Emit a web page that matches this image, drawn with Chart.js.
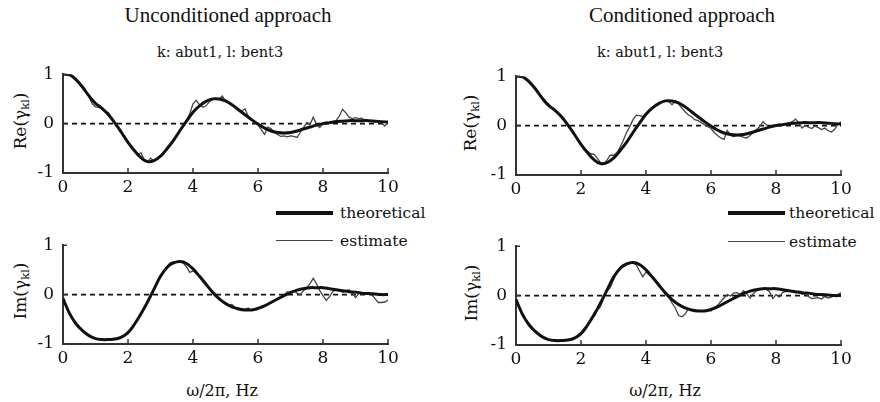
<!DOCTYPE html>
<html>
<head>
<meta charset="utf-8">
<script src="https://cdn.jsdelivr.net/npm/chart.js@4.4.0/dist/chart.umd.min.js"></script>
<style>
body{margin:0;background:#fff;width:880px;height:402px;position:relative;overflow:hidden;font-family:"DejaVu Serif",serif;color:#111}
canvas{position:absolute}
.t{position:absolute;white-space:nowrap;transform:translate(-50%,-50%)}
.title{font-family:"Liberation Serif",serif;font-size:21px;color:#111}
.sub{font-size:14.5px}
.yt{font-size:17px;transform:translate(-50%,-50%) rotate(-90deg)}
.yt sub{font-size:11.5px;vertical-align:-3px}
.xt{font-size:16px}
.leg{position:absolute;font-size:15.5px;white-space:nowrap;transform:translateY(-50%)}
.ln{position:absolute;background:#111}
</style>
</head>
<body>
<div class="t title" style="left:228px;top:15px">Unconditioned approach</div>
<div class="t title" style="left:682px;top:15px">Conditioned approach</div>
<div class="t sub" style="left:220px;top:52px">k: abut1, l: bent3</div>
<div class="t sub" style="left:660px;top:52px">k: abut1, l: bent3</div>

<div class="t yt" style="left:21px;top:121px">Re(γ<sub>kl</sub>)</div>
<div class="t yt" style="left:471px;top:123px">Re(γ<sub>kl</sub>)</div>
<div class="t yt" style="left:21px;top:291px">Im(γ<sub>kl</sub>)</div>
<div class="t yt" style="left:472px;top:293px">Im(γ<sub>kl</sub>)</div>

<div class="ln" style="left:276px;top:211px;width:57px;height:3.5px"></div>
<div class="leg" style="left:340px;top:213px">theoretical</div>
<div class="ln" style="left:276px;top:240px;width:57px;height:1.3px;background:#444"></div>
<div class="leg" style="left:340px;top:241px">estimate</div>
<div class="ln" style="left:728px;top:211px;width:57px;height:3.5px"></div>
<div class="leg" style="left:789px;top:213px">theoretical</div>
<div class="ln" style="left:728px;top:241px;width:57px;height:1.3px;background:#444"></div>
<div class="leg" style="left:789px;top:242px">estimate</div>

<div class="t xt" style="left:222px;top:390px">ω/2π, Hz</div>
<div class="t xt" style="left:665px;top:390px">ω/2π, Hz</div>

<canvas id="reU" width="410" height="150" style="left:0px;top:55px"></canvas>
<canvas id="reC" width="410" height="150" style="left:453px;top:57px"></canvas>
<canvas id="imU" width="410" height="150" style="left:0px;top:226px"></canvas>
<canvas id="imC" width="410" height="150" style="left:453px;top:227px"></canvas>

<script>
// frequency grids (Hz)
const freqTheory = [0,0.2,0.4,0.6,0.8,1,1.2,1.4,1.6,1.8,2,2.2,2.4,2.6,2.8,3,3.2,3.4,3.6,3.8,4,4.2,4.4,4.6,4.8,5,
    5.2,5.4,5.6,5.8,6,6.2,6.4,6.6,6.8,7,7.2,7.4,7.6,7.8,8,8.2,8.4,8.6,8.8,9,9.2,9.4,9.6,9.8,10]
const freqEst = [0,0.1,0.2,0.3,0.4,0.5,0.6,0.7,0.8,0.9,1,1.1,1.2,1.3,1.4,1.5,1.6,1.7,1.8,1.9,
    2,2.1,2.2,2.3,2.4,2.5,2.6,2.7,2.8,2.9,3,3.1,3.2,3.3,3.4,3.5,3.6,3.7,3.8,3.9,
    4,4.1,4.2,4.3,4.4,4.5,4.6,4.7,4.8,4.9,5,5.1,5.2,5.3,5.4,5.5,5.6,5.7,5.8,5.9,
    6,6.1,6.2,6.3,6.4,6.5,6.6,6.7,6.8,6.9,7,7.1,7.2,7.3,7.4,7.5,7.6,7.7,7.8,7.9,
    8,8.1,8.2,8.3,8.4,8.5,8.6,8.7,8.8,8.9,9,9.1,9.2,9.3,9.4,9.5,9.6,9.7,9.8,9.9,10]
const zeroX = [0, 10]
const zeroY = [0, 0]

// theoretical coherence (same for both approaches)
const reTheory = [1.00,0.99,0.89,0.74,0.56,0.41,0.31,0.18,0.01,-0.18,-0.38,-0.55,-0.69,-0.77,-0.75,-0.66,-0.51,-0.34,-0.14,0.05,
    0.23,0.36,0.45,0.50,0.50,0.46,0.38,0.28,0.18,0.08,-0.01,-0.09,-0.15,-0.18,-0.19,-0.18,-0.15,-0.11,-0.07,-0.03,
    0.00,0.02,0.04,0.05,0.06,0.06,0.06,0.06,0.05,0.04,0.03]
const imTheory = [-0.08,-0.38,-0.59,-0.73,-0.83,-0.89,-0.91,-0.91,-0.90,-0.86,-0.77,-0.60,-0.39,-0.15,0.11,0.37,0.55,0.64,0.67,0.63,
    0.52,0.37,0.21,0.05,-0.08,-0.18,-0.25,-0.29,-0.31,-0.31,-0.28,-0.23,-0.16,-0.09,-0.02,0.04,0.09,0.12,0.14,0.14,
    0.14,0.12,0.10,0.08,0.06,0.05,0.03,0.02,0.01,0.00,0.00]

// estimates
const reEstUncond = [1.00,1.00,0.99,0.95,0.88,0.80,0.73,0.64,0.55,0.40,0.34,0.33,0.30,0.24,0.22,0.10,0.02,-0.09,-0.18,-0.28,
    -0.38,-0.47,-0.55,-0.62,-0.59,-0.74,-0.78,-0.70,-0.76,-0.71,-0.65,-0.59,-0.51,-0.43,-0.34,-0.24,-0.14,-0.04,0.06,0.20,
    0.40,0.47,0.38,0.33,0.36,0.44,0.49,0.50,0.49,0.56,0.46,0.42,0.37,0.33,0.27,0.25,0.30,0.15,0.07,0.03,
    -0.03,-0.12,-0.22,-0.07,-0.10,-0.18,-0.22,-0.26,-0.25,-0.27,-0.25,-0.26,-0.28,-0.18,-0.08,0.02,-0.02,0.13,-0.02,-0.08,
    0.00,0.03,0.02,0.04,0.06,0.15,0.29,0.22,0.13,0.10,0.12,0.10,0.11,0.05,0.06,0.05,0.04,0.03,0.02,-0.05,0.02]
const reEstCond = [1.00,1.00,0.98,0.93,0.88,0.82,0.74,0.66,0.57,0.50,0.44,0.36,0.29,0.25,0.19,0.10,0.02,-0.08,-0.18,-0.28,
    -0.37,-0.46,-0.52,-0.57,-0.58,-0.66,-0.75,-0.78,-0.70,-0.60,-0.60,-0.55,-0.44,-0.30,-0.14,-0.02,0.12,0.21,0.20,0.18,
    0.25,0.32,0.37,0.41,0.45,0.48,0.50,0.49,0.42,0.50,0.44,0.36,0.28,0.22,0.18,0.12,0.10,0.06,0.02,-0.02,
    -0.06,-0.14,-0.20,-0.25,-0.28,-0.10,-0.20,-0.22,-0.20,-0.21,-0.24,-0.25,-0.20,-0.14,-0.08,-0.02,0.08,0.02,-0.03,0.01,
    0.02,0.03,0.02,0.04,0.05,0.08,0.13,0.06,-0.05,0.00,-0.03,-0.06,-0.01,-0.04,-0.08,-0.05,-0.10,-0.13,-0.08,0.02,0.08]
const imEstUncond = [-0.05,-0.24,-0.39,-0.50,-0.59,-0.67,-0.73,-0.78,-0.83,-0.86,-0.89,-0.91,-0.90,-0.92,-0.90,-0.92,-0.89,-0.88,-0.85,-0.82,
    -0.77,-0.69,-0.60,-0.50,-0.39,-0.27,-0.15,-0.02,0.11,0.24,0.37,0.47,0.56,0.65,0.66,0.66,0.67,0.64,0.56,0.45,
    0.48,0.44,0.37,0.29,0.21,0.13,0.05,-0.02,-0.08,-0.14,-0.16,-0.22,-0.20,-0.27,-0.27,-0.30,-0.30,-0.27,-0.32,-0.29,
    -0.27,-0.25,-0.22,-0.19,-0.17,-0.12,-0.08,-0.06,-0.01,0.06,0.04,0.08,0.03,0.00,0.08,0.14,0.22,0.33,0.22,0.08,
    -0.02,-0.12,-0.04,0.06,0.10,0.08,0.05,0.07,0.10,0.04,-0.06,0.02,0.03,0.02,0.01,0.00,-0.08,-0.16,-0.16,-0.15,-0.11]
const imEstCond = [-0.04,-0.24,-0.40,-0.51,-0.60,-0.67,-0.73,-0.78,-0.83,-0.86,-0.89,-0.90,-0.91,-0.90,-0.92,-0.90,-0.90,-0.88,-0.85,-0.81,
    -0.76,-0.66,-0.60,-0.48,-0.42,-0.30,-0.22,-0.05,0.10,0.16,0.32,0.48,0.55,0.58,0.62,0.65,0.66,0.62,0.50,0.38,
    0.48,0.42,0.36,0.29,0.21,0.14,0.06,-0.02,-0.15,-0.25,-0.40,-0.43,-0.38,-0.27,-0.29,-0.31,-0.31,-0.31,-0.30,-0.29,
    -0.31,-0.24,-0.20,-0.12,-0.05,0.02,-0.01,0.05,0.06,0.02,0.10,0.04,-0.05,0.04,0.10,0.12,0.14,0.13,0.08,-0.06,
    0.02,-0.03,0.06,0.08,0.10,0.08,0.06,0.06,0.03,0.04,-0.02,-0.06,-0.05,-0.04,-0.07,-0.02,-0.05,-0.03,0.00,0.02,0.06]

const xTicks = [0, 2, 4, 6, 8, 10]
const yTicks = [-1, 0, 1]

function pairs(xs, ys){
    return xs.map((x, i) => ({x: x, y: ys[i]}))
}

// small tick marks pointing into the plot
const inwardTicks = {
    id: 'inwardTicks',
    afterDraw(chart){
        const ctx = chart.ctx
        const area = chart.chartArea
        const sx = chart.scales.x
        const sy = chart.scales.y
        ctx.save()
        ctx.strokeStyle = '#333'
        ctx.lineWidth = 1.5
        ctx.beginPath()
        xTicks.forEach(v => {
            const px = sx.getPixelForValue(v)
            ctx.moveTo(px, area.bottom)
            ctx.lineTo(px, area.bottom - 5)
        })
        yTicks.forEach(v => {
            const py = sy.getPixelForValue(v)
            ctx.moveTo(area.left, py)
            ctx.lineTo(area.left + 4, py)
        })
        ctx.stroke()
        ctx.restore()
    }
}

const tickFont = {family: 'DejaVu Serif', size: 17}

function makePanel(id, theory, est){
    new Chart(document.getElementById(id), {
        type: 'line',
        data: {
            datasets: [
                {data: pairs(freqTheory, theory), borderColor: '#111', borderWidth: 3, tension: 0.4, pointRadius: 0, order: 0},
                {data: pairs(freqEst, est), borderColor: '#444', borderWidth: 1.3, tension: 0, pointRadius: 0, order: 1},
                {data: pairs(zeroX, zeroY), borderColor: '#111', borderWidth: 1.6, borderDash: [5, 4], pointRadius: 0, order: 2}
            ]
        },
        options: {
            responsive: false,
            animation: false,
            events: [],
            layout: {padding: {top: 14, right: 22, left: 0, bottom: 0}},
            plugins: {legend: {display: false}, tooltip: {enabled: false}},
            scales: {
                x: {
                    type: 'linear', min: 0, max: 10,
                    afterBuildTicks: s => { s.ticks = xTicks.map(v => ({value: v})) },
                    ticks: {color: '#111', font: tickFont, padding: 4, maxRotation: 0},
                    grid: {display: false, drawTicks: false},
                    border: {color: '#333', width: 2},
                    afterFit: s => { s.height = 32 }
                },
                y: {
                    type: 'linear', min: -1, max: 1,
                    afterBuildTicks: s => { s.ticks = yTicks.map(v => ({value: v})) },
                    ticks: {color: '#111', font: tickFont, padding: 9},
                    grid: {display: false, drawTicks: false},
                    border: {color: '#333', width: 2},
                    afterFit: s => { s.width = 63 }
                }
            }
        },
        plugins: [inwardTicks]
    })
}

makePanel('reU', reTheory, reEstUncond)
makePanel('reC', reTheory, reEstCond)
makePanel('imU', imTheory, imEstUncond)
makePanel('imC', imTheory, imEstCond)
</script>
</body>
</html>
